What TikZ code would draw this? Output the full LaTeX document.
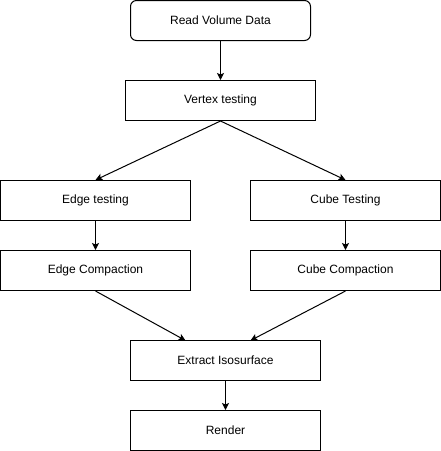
\documentclass[tikz,border=0pt]{standalone}
\usepackage{fontspec}
\setmainfont{Liberation Sans}
\usetikzlibrary{arrows.meta}
\begin{document}
\begin{tikzpicture}[x=1pt,y=-1pt,
  box/.style={draw=black,line width=1pt,minimum width=190pt,minimum height=40pt,inner sep=0pt,font=\fontsize{12pt}{14pt}\selectfont,fill=white},
  rbox/.style={box,rounded corners=6pt,minimum width=180pt},
  conn/.style={draw=black,line width=1pt,-{Stealth[length=7pt,width=7pt,inset=1.5pt]}}]
\useasboundingbox[fill=white] (0,0) rectangle (441,451);
\node[rbox] (read) at (220.5,20.5) {Read Volume Data};
\node[box] (vertex) at (220.5,100.5) {Vertex testing};
\node[box] (edge) at (95.5,200.5) {Edge testing};
\node[box] (cube) at (345.5,200.5) {Cube Testing};
\node[box] (edgec) at (95.5,270.5) {Edge Compaction};
\node[box] (cubec) at (345.5,270.5) {Cube Compaction};
\node[box] (extract) at (225.5,360.5) {Extract Isosurface};
\node[box] (render) at (225.5,430.5) {Render};
\coordinate (e1) at (185.5,340.5);
\coordinate (e2) at (250.5,340.5);
\draw[conn] (read.south) -- (vertex.north);
\draw[conn] (vertex.south) -- (edge.north);
\draw[conn] (vertex.south) -- (cube.north);
\draw[conn] (edge.south) -- (edgec.north);
\draw[conn] (cube.south) -- (cubec.north);
\draw[conn] (edgec.south) -- (e1);
\draw[conn] (cubec.south) -- (e2);
\draw[conn] (extract.south) -- (render.north);
\end{tikzpicture}
\end{document}
